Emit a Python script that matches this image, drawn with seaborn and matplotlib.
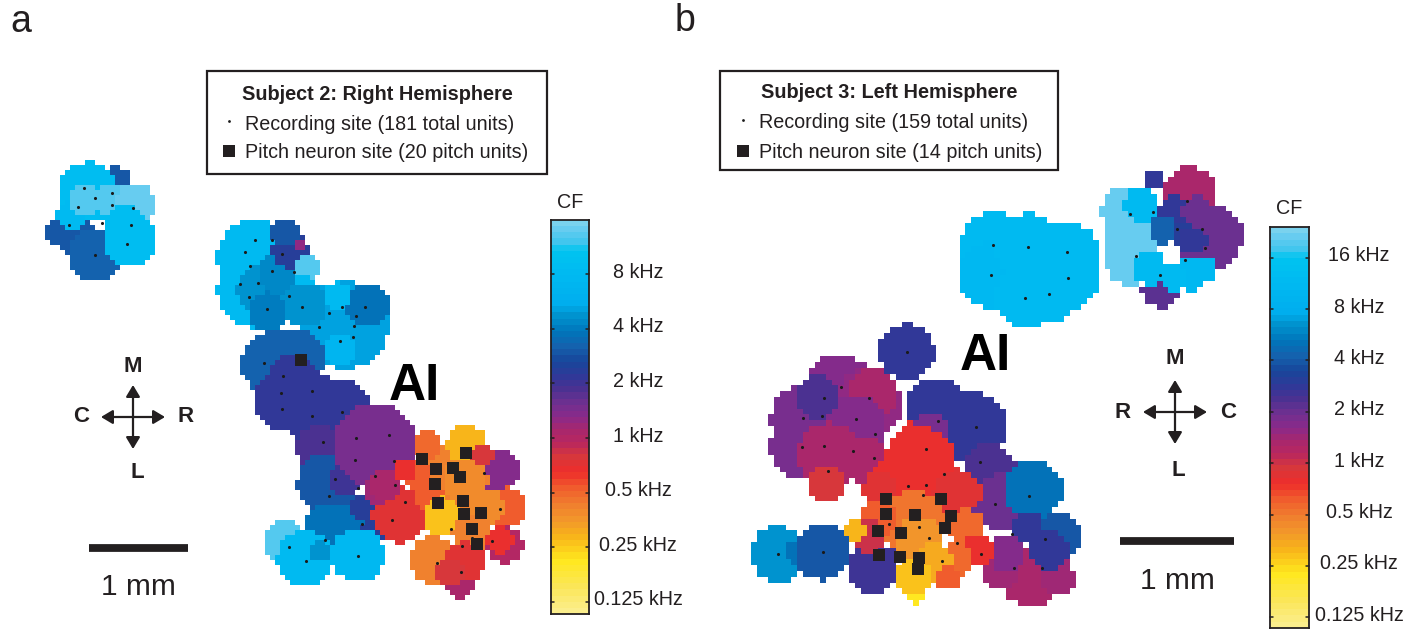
"""Tonotopic CF maps for two hemispheres with pitch neuron sites."""

import numpy as np
import pandas as pd
import matplotlib.pyplot as plt
from matplotlib.colors import LinearSegmentedColormap
import seaborn as sns

sns.set_style("white")
plt.rcParams['font.family'] = ['Liberation Sans', 'DejaVu Sans']

W, H = 1421, 630

# colour scale, bottom to top of the colour bar
cmap_stops = [0, .06, .13, .163, .197, .23, .273, .315, .358, .40, .434, .47, .50,
              .537, .57, .60, .645, .68, .72, .763, .79, .865, .93, .95, .98, 1]
cmap_colors = ['#FBEE8C', '#FBE65A', '#FFE81E', '#FBCB1C', '#F7B01A', '#F29A2A', '#F07F2E',
               '#F05F2D', '#EE2D2B', '#D5383C', '#B9265F', '#A4286F', '#8A2A8A', '#6E3090',
               '#4C3191', '#333798', '#17479B', '#1561AD', '#0075BA', '#0094D0', '#00ADEE',
               '#00B9F1', '#00C4F0', '#3FC6EE', '#62CBF0', '#7AD2EE']

# panel a: map patches in drawing order (pixel x, y, radius, log2 CF in kHz)
a_patch_x = [115, 88, 62, 80, 72, 95, 130, 85, 110, 135, 125,
             255, 255, 265, 280, 290, 285, 300, 308, 303, 268,
             345, 368, 337, 340, 305,
             273, 297, 293, 283, 310, 313, 340, 318, 327, 330, 357, 377, 345, 362,
             375, 400, 378, 385, 285, 305, 358, 320,
             497, 450, 427, 467, 465, 417, 405, 482, 507, 487, 430, 443, 472, 505, 500, 433, 460, 465, 450]
a_patch_y = [183, 192, 232, 240, 215, 255, 240, 200, 200, 203, 225,
             258, 290, 290, 272, 250, 232, 243, 268, 285, 312,
             325, 305, 296, 350, 305,
             363, 358, 375, 400, 400, 420, 412, 447, 483, 530, 527, 527, 480, 507,
             445, 515, 490, 485, 543, 558, 555, 552,
             470, 480, 445, 445, 480, 475, 470, 455, 507, 507, 497, 517, 533, 545, 540, 560, 583, 562, 573]
a_patch_r = [17, 30, 16, 20, 15, 27, 27, 17, 17, 20, 20,
             38, 38, 28, 22, 18, 14, 6, 13, 10, 20,
             44, 22, 14, 16, 22,
             32, 28, 22, 30, 30, 26, 33, 22, 30, 26, 24, 15, 15, 12,
             42, 28, 14, 15, 22, 28, 27, 10,
             22, 38, 14, 20, 22, 14, 11, 12, 20, 18, 14, 20, 20, 18, 13, 24, 15, 20, 14]
a_patch_cf = [1.6, 3.2, 1.6, 1.6, 3.0, 1.65, 3.2, 3.7, 3.7, 3.85, 3.2,
              3.0, 3.0, 2.3, 2.1, 1.2, 1.6, 0.3, 3.7, 3.0, 2.0,
              2.35, 1.95, 3.0, 2.8, 2.2,
              1.65, 1.65, 1.15, 1.15, 1.15, 1.15, 1.15, 0.85, 1.6, 1.85, 1.9, 1.2, 1.05, 1.2,
              0.55, -0.45, 0.2, 0.1, 3.7, 3.05, 2.95, 2.3,
              0.4, -1.3, -1.0, -1.85, -1.4, -0.9, -0.55, -0.4, -0.95, -1.4, -0.95, -1.9, -1.2, 0.0, -0.55, -1.25, 0.1, -0.5, -0.4]

a_site_x = [84, 112, 95, 112, 133, 78, 102, 131, 69, 127, 95,
            255, 272, 245, 282, 250, 272, 294, 240, 258, 289, 249, 302, 267,
            342, 365, 329, 356, 319, 354, 353, 340,
            264, 283, 281, 312, 282, 312, 342, 323, 356, 389, 355, 394, 375, 335, 395, 358, 329,
            405, 392, 362, 325, 289, 306, 358, 484, 500, 451, 492, 462, 437, 461, 472]
a_site_y = [188, 193, 198, 205, 208, 207, 223, 225, 225, 244, 255,
            240, 240, 252, 254, 266, 271, 272, 284, 283, 296, 297, 307, 309,
            307, 307, 313, 316, 327, 326, 337, 341,
            363, 376, 393, 391, 409, 416, 412, 442, 438, 435, 460, 461, 476, 479, 485, 488, 496,
            502, 520, 524, 540, 547, 561, 556, 473, 509, 529, 541, 546, 563, 572, 538]
a_pitch_x = [301, 422, 436, 453, 466, 460, 435, 438, 463, 464, 481, 472, 477]
a_pitch_y = [360, 459, 469, 468, 453, 477, 484, 503, 501, 514, 513, 529, 544]
a_tick_labels = ['8 kHz', '4 kHz', '2 kHz', '1 kHz', '0.5 kHz', '0.25 kHz', '0.125 kHz']
a_tick_cf = [3, 2, 1, 0, -1, -2, -3]

# panel b
b_patch_x = [907, 840, 803, 868, 873, 803, 857, 830, 817, 867, 827,
             778, 793, 823, 937, 973, 930, 990, 1000, 1033, 1057, 1030, 1057, 1000, 1027, 1050, 1007, 873,
             1030, 993, 991, 1028, 1067, 1068, 1025, 1049,
             1190, 1125, 1130, 1130, 1210, 1153, 1160, 1141, 1150, 1190, 1172, 1205, 1180, 1173, 1163, 1193, 1197,
             917, 910, 920, 907, 957, 880, 913, 880, 870, 967, 978, 957, 855, 920, 933, 913, 948]
b_patch_y = [352, 387, 420, 403, 393, 447, 425, 455, 397, 460, 483,
             554, 553, 552, 407, 427, 433, 470, 503, 490, 537, 577, 577, 570, 527, 550, 553, 567,
             270, 245, 275, 247, 252, 278, 298, 294,
             192, 210, 240, 262, 237, 180, 290, 205, 268, 275, 277, 270, 232, 210, 230, 240, 210,
             595, 430, 463, 487, 493, 490, 523, 517, 537, 527, 550, 560, 530, 540, 563, 577, 578]
b_patch_r = [28, 33, 33, 34, 24, 33, 30, 32, 22, 24, 19,
             28, 10, 28, 30, 35, 20, 26, 28, 30, 24, 30, 18, 20, 16, 20, 18, 26,
             40, 33, 33, 33, 31, 31, 30, 30,
             26, 24, 28, 24, 33, 10, 18, 18, 17, 16, 14, 12, 14, 15, 14, 14, 15,
             9, 8, 36, 38, 24, 18, 33, 18, 17, 18, 16, 17, 10, 24, 20, 18, 12]
b_patch_cf = [1.48, 0.8, 0.9, 0.65, 0.45, 0.85, 0.75, 0.4, 1.2, 0.35, -0.05,
              2.75, 2.4, 1.95, 1.48, 1.48, 0.85, 1.2, 1.05, 2.35, 2.0, 0.35, 0.55, 0.5, 1.45, 1.5, 0.7, 1.35,
              3.55, 3.55, 3.5, 3.55, 3.55, 3.55, 3.6, 3.6,
              0.35, 4.4, 4.4, 4.4, 1.05, 1.5, 1.15, 3.55, 3.55, 3.5, 3.55, 3.5, 1.6, 1.45, 2.1, 1.5, 1.0,
              -2.2, -0.4, -0.4, -0.4, -0.25, -0.2, -0.9, -0.75, 0.05, -0.8, -0.4, -0.8, -1.7, -1.3, -1.6, -1.8, -0.75]

b_site_x = [907, 841, 824, 869, 803, 822, 856, 938, 976, 875, 802, 824, 853, 874, 926, 980,
            828, 944, 908, 926, 923, 1029, 995, 889, 919, 1012, 1045, 929, 957, 778, 823, 981, 942, 1014, 1042,
            993, 991, 1028, 1067, 1068, 1025, 1049,
            1187, 1153, 1130, 1177, 1202, 1205, 1136, 1185, 1160]
b_site_y = [352, 387, 398, 398, 418, 416, 419, 421, 427, 434, 447, 446, 451, 458, 449, 462,
            471, 474, 486, 485, 495, 496, 504, 524, 527, 534, 539, 538, 543, 554, 552, 554, 561, 568, 568,
            245, 275, 247, 252, 278, 298, 294,
            201, 212, 214, 229, 229, 248, 256, 260, 275]
b_pitch_x = [886, 941, 886, 915, 951, 945, 878, 901, 879, 900, 919, 918]
b_pitch_y = [499, 499, 514, 515, 516, 528, 531, 533, 555, 557, 558, 569]
b_tick_labels = ['16 kHz', '8 kHz', '4 kHz', '2 kHz', '1 kHz', '0.5 kHz', '0.25 kHz', '0.125 kHz']
b_tick_cf = [4, 3, 2, 1, 0, -1, -2, -3]

cf_map = LinearSegmentedColormap.from_list('cf', list(zip(cmap_stops, cmap_colors)), N=64)

fig = plt.figure(figsize=(W / 100, H / 100), dpi=100)
ax = fig.add_axes([0, 0, 1, 1], zorder=5)
ax.set_xlim(0, W)
ax.set_ylim(H, 0)
ax.patch.set_visible(False)
ax.axis('off')


def px_axes(x0, y0, x1, y1, zorder=1):
    return fig.add_axes([x0 / W, 1 - y1 / H, (x1 - x0) / W, (y1 - y0) / H], zorder=zorder)


def draw_map(box, cell, px, py, pr, pcf, vmin, vmax):
    """Paint patches on a coarse grid, later ones on top, and show it as a heatmap."""
    x0, y0, x1, y1 = box
    xs = np.arange(x0, x1, cell)
    ys = np.arange(y0, y1, cell)
    xx, yy = np.meshgrid(xs + cell / 2, ys + cell / 2)
    grid = np.full(xx.shape, np.nan)
    for x, y, r, cf in zip(px, py, pr, pcf):
        grid[(xx - x) ** 2 + (yy - y) ** 2 <= r ** 2] = cf
    m_ax = px_axes(x0, y0, x0 + len(xs) * cell, y0 + len(ys) * cell)
    sns.heatmap(pd.DataFrame(grid), ax=m_ax, cmap=cf_map, vmin=vmin, vmax=vmax, cbar=False,
                xticklabels=False, yticklabels=False, linewidths=0, rasterized=True)
    m_ax.axis('off')


def draw_bar(box, vmin, vmax, ticks, labels, label_x, title_y):
    x0, y0, x1, y1 = box
    levels = np.linspace(vmax, vmin, 64).reshape(-1, 1)
    b_ax = px_axes(x0, y0, x1, y1)
    sns.heatmap(levels, ax=b_ax, cmap=cf_map, vmin=vmin, vmax=vmax, cbar=False,
                xticklabels=False, yticklabels=False)
    for spine in b_ax.spines.values():
        spine.set_visible(True)
        spine.set_linewidth(1.3)
        spine.set_color('#231f20')
    for cf, lab in zip(ticks, labels):
        y = y0 + (vmax - cf) / (vmax - vmin) * (y1 - y0)
        ax.plot([x0, x0 + 3], [y, y], color='#231f20', lw=1.1)
        ax.plot([x1 - 3, x1], [y, y], color='#231f20', lw=1.1)
        ax.text(label_x, y - 2, lab, ha='center', va='center', fontsize=14.2, color='#231f20')
    ax.text((x0 + x1) / 2, title_y, 'CF', ha='center', va='center', fontsize=14.2, color='#231f20')


def draw_marks(sx, sy, tx, ty):
    sns.scatterplot(x=sx, y=sy, ax=ax, s=5, color='#1a1a1a', linewidth=0, legend=False, zorder=6)
    sns.scatterplot(x=tx, y=ty, ax=ax, s=84, marker='s', color='#231f20', linewidth=0, legend=False, zorder=7)


def draw_legend(box, title, line1, line2, title_y, text_x, key_x, row1, row2):
    x0, y0, x1, y1 = box
    ax.add_patch(plt.Rectangle((x0, y0), x1 - x0, y1 - y0, fill=False, ec='#231f20', lw=1.6))
    ax.text((x0 + x1) / 2 - 0, title_y, title, ha='center', va='center', fontsize=14.3, fontweight='bold', color='#231f20')
    ax.text(text_x, row1, line1, ha='left', va='center', fontsize=14.2, color='#231f20')
    ax.text(text_x, row2, line2, ha='left', va='center', fontsize=14.2, color='#231f20')
    sns.scatterplot(x=[key_x], y=[row1 - 3], ax=ax, s=4, color='#1a1a1a', linewidth=0, legend=False)
    sns.scatterplot(x=[key_x], y=[row2 - 1], ax=ax, s=84, marker='s', color='#231f20', linewidth=0, legend=False)


def draw_compass(cx, cy, labels, label_pos):
    for dx, dy in [(32, 0), (0, 32)]:
        ax.annotate('', xy=(cx + dx, cy + dy), xytext=(cx - dx, cy - dy),
                    arrowprops=dict(arrowstyle='<|-|>,head_length=0.5,head_width=0.3', color='#231f20',
                                    lw=1.6, shrinkA=0, shrinkB=0, mutation_scale=14))
    for lab, (x, y) in zip(labels, label_pos):
        ax.text(x, y, lab, ha='center', va='center', fontsize=16, fontweight='bold', color='#231f20')


def draw_scale(x0, x1, y, text_y):
    ax.plot([x0, x1], [y, y], color='#231f20', lw=5.6, solid_capstyle='butt')
    ax.text((x0 + x1) / 2, text_y, '1 mm', ha='center', va='center', fontsize=21.5, color='#231f20')


# panel a
draw_map((40, 160, 535, 605), 5, a_patch_x, a_patch_y, a_patch_r, a_patch_cf, -3.22, 3.99)
draw_bar((551, 220, 589, 614), -3.22, 3.99, a_tick_cf, a_tick_labels, 638, 202)
draw_marks(a_site_x, a_site_y, a_pitch_x, a_pitch_y)
draw_legend((207, 71, 547, 174), 'Subject 2: Right Hemisphere', 'Recording site (181 total units)',
            'Pitch neuron site (20 pitch units)', 94, 245, 229, 124, 152)
draw_compass(133, 417, ['M', 'C', 'R', 'L'], [(133, 366), (81, 417), (186, 417), (137, 473)])
draw_scale(89, 188, 548, 587)
ax.text(414, 386, 'AI', ha='center', va='center', fontsize=37, fontweight='bold', color='black')
ax.text(21, 22, 'a', ha='center', va='center', fontsize=27, color='#231f20')

# panel b
draw_map((745, 165, 1245, 605), 5.8, b_patch_x, b_patch_y, b_patch_r, b_patch_cf, -3.21, 4.6)
draw_bar((1270, 227, 1309, 628), -3.21, 4.6, b_tick_cf, b_tick_labels, 1359, 208)
draw_marks(b_site_x, b_site_y, b_pitch_x, b_pitch_y)
draw_legend((720, 71, 1058, 170), 'Subject 3: Left Hemisphere', 'Recording site (159 total units)',
            'Pitch neuron site (14 pitch units)', 93, 759, 743, 123, 152)
draw_compass(1175, 412, ['M', 'R', 'C', 'L'], [(1175, 358), (1123, 413), (1228, 413), (1178, 470)])
draw_scale(1120, 1234, 541, 581)
ax.text(985, 356, 'AI', ha='center', va='center', fontsize=37, fontweight='bold', color='black')
ax.text(685, 21, 'b', ha='center', va='center', fontsize=27, color='#231f20')

fig.savefig('out.png', dpi=100, facecolor='white')
